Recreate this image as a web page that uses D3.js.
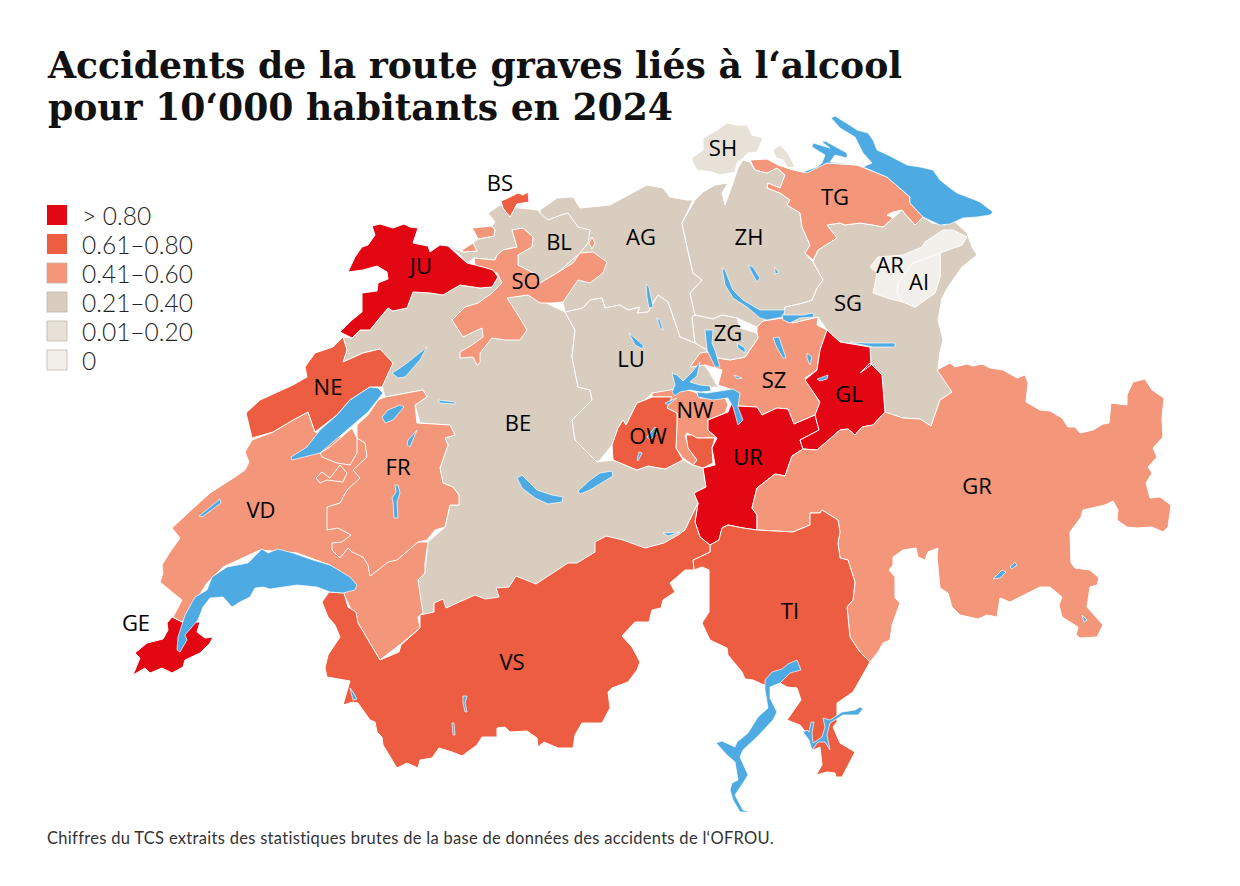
<!DOCTYPE html>
<html lang="fr">
<head>
<meta charset="UTF-8">
<title>Accidents de la route graves liés à l'alcool</title>
<script src="https://d3js.org/d3.v7.min.js"></script>
<style>
    html, body { margin: 0; padding: 0; background: #fff; }
    svg { display: block; }
    .title { font-family: "DejaVu Serif", serif; font-weight: 700; font-size: 37px; fill: #111; }
    .code { font-family: "Open Sans", sans-serif; font-size: 22px; fill: #000; text-anchor: middle; dominant-baseline: central; }
    .legend-text { font-family: Lato, sans-serif; font-size: 24.5px; font-weight: 300; fill: #222; dominant-baseline: central; }
    .source { font-family: Lato, sans-serif; font-size: 16.5px; letter-spacing: 0.3px; fill: #333; }
</style>
</head>
<body>
<svg id="map" width="1240" height="886"></svg>
<script>
const titleLines = ["Accidents de la route graves liés à l‘alcool", "pour 10‘000 habitants en 2024"];
const sourceText = "Chiffres du TCS extraits des statistiques brutes de la base de données des accidents de l‘OFROU.";

const classLabels = ["> 0.80", "0.61–0.80", "0.41–0.60", "0.21–0.40", "0.01–0.20", "0"];
const classColors = ["#e30613", "#ec5d41", "#f3967a", "#d9cdbf", "#e7e1d8", "#f3f0eb"];
const lakeColor = "#4eaae2";

// canton -> legend class index
const cantonCodes = ["BE","SG","AG","LU","ZH","BL","SO","VD","FR","NE","SZ","ZG","NW","OW","UR","GL","GR","TI","VS","JU","BS","GE","TG","SH","AR","AI"];
const cantonClass = [3,3,3,3,3,3,2,2,2,1,2,3,2,1,0,0,2,1,1,0,1,0,2,4,5,5];
const labelX = [518,848,641,631,749,559,526,261,398,328,774,728,695,648,748,849,977,790,512,421,500,136,835,723,890,919];
const labelY = [422,302,236,358,236,241,280,509,466,386,379,332,409,435,456,393,485,610,661,265,182,622,196,147,264,281];

// outlines, in map units
const shapes = {
  BE: [[[343,337],[352,338],[360,330],[370,330],[378,320],[388,308],[393,311],[407,308],[413,292],[430,293],[443,295],[460,285],[480,288],[492,287],[498,277],[507,285],[540,300],[565,312],[575,330],[572,357],[578,387],[590,390],[592,400],[572,420],[575,440],[597,462],[613,460],[637,470],[648,466],[665,469],[683,460],[693,465],[703,468],[706,487],[694,493],[698,503],[685,530],[690,550],[600,570],[440,625],[420,625],[418,580],[425,573],[428,542],[445,527],[450,505],[459,505],[459,495],[453,487],[443,483],[440,468],[448,445],[445,438],[455,435],[450,425],[420,423],[415,405],[427,397],[423,390],[385,397],[382,385],[393,363],[380,349],[363,353],[343,362],[347,350]]],
  SG: [[[813,262],[818,250],[837,238],[827,225],[840,223],[845,225],[860,223],[873,225],[883,227],[893,218],[902,210],[906,215],[915,225],[923,217],[932,223],[945,225],[953,220],[967,233],[972,247],[977,255],[962,267],[948,287],[942,298],[938,320],[943,340],[940,352],[938,368],[952,392],[940,400],[931,426],[920,419],[903,418],[885,413],[882,375],[860,373],[871,365],[870,347],[840,342],[827,330],[818,317],[793,323],[783,318],[785,307],[803,303],[812,300],[817,288],[823,280]]],
  AG: [[[540,213],[540,210],[557,198],[573,197],[580,208],[610,205],[623,198],[647,185],[663,188],[670,197],[687,200],[693,200],[682,223],[687,247],[693,273],[702,280],[690,293],[695,315],[692,317],[695,343],[680,337],[668,302],[658,295],[648,312],[637,313],[640,307],[628,310],[620,305],[605,308],[602,298],[590,300],[583,308],[565,312],[563,302],[540,300]]],
  LU: [[[565,312],[583,308],[590,300],[602,298],[605,308],[620,305],[628,310],[640,307],[637,313],[648,312],[658,295],[668,302],[680,337],[695,343],[707,350],[702,362],[710,373],[718,387],[690,388],[672,392],[652,393],[645,400],[637,403],[626,425],[623,420],[618,428],[612,445],[600,460],[597,462],[575,440],[572,420],[592,400],[590,390],[578,387],[572,357],[575,330]]],
  ZH: [[[695,200],[703,192],[715,185],[728,183],[722,193],[725,205],[733,183],[738,168],[743,160],[750,162],[755,170],[767,173],[777,168],[785,175],[780,188],[768,183],[767,188],[780,193],[790,200],[787,205],[800,213],[802,227],[810,245],[805,253],[813,262],[823,280],[817,288],[812,300],[803,303],[785,307],[783,318],[763,321],[757,327],[737,318],[722,315],[713,319],[695,315],[690,293],[702,280],[693,273],[687,247],[682,223]]],
  BL: [[[488,213],[500,205],[510,207],[538,210],[540,213],[548,220],[561,215],[568,213],[578,227],[590,230],[588,243],[580,253],[557,273],[540,283],[537,275],[518,265],[518,255],[532,247],[533,237],[523,228],[512,230],[517,247],[503,250],[497,255],[495,260],[474,258],[467,263],[458,253],[448,246],[463,252],[477,251],[473,243],[478,239],[494,236],[495,230],[492,226],[495,222]]],
  SO: [[[474,258],[495,260],[497,255],[503,250],[517,247],[512,230],[523,228],[533,237],[532,247],[518,255],[518,265],[537,275],[540,283],[557,273],[573,263],[580,253],[593,252],[607,262],[603,273],[590,283],[578,280],[563,302],[553,303],[542,303],[540,303],[528,295],[507,298],[518,315],[527,330],[520,340],[505,340],[492,338],[480,353],[480,363],[477,365],[473,357],[460,358],[460,352],[472,345],[483,337],[482,328],[463,337],[452,320],[465,307],[478,303],[492,293],[502,283],[497,273],[475,265]],
       [[472,228],[492,226],[495,230],[494,236],[478,239],[475,233]],
       [[462,250],[473,243],[477,251],[463,252]],
       [[592,237],[595,243],[592,249],[589,243]]],
  VD: [[[252,440],[273,432],[293,420],[308,412],[315,432],[340,437],[370,440],[400,500],[418,542],[428,542],[425,563],[425,573],[418,580],[423,613],[418,617],[420,628],[402,643],[380,660],[358,623],[343,593],[357,585],[330,565],[297,553],[260,550],[223,567],[207,583],[190,610],[182,622],[173,617],[182,600],[172,592],[160,582],[163,573],[162,565],[170,552],[180,538],[172,528],[188,513],[210,493],[235,477],[245,470],[249,462],[245,452]]],
  FR: [[[385,397],[423,390],[427,397],[415,405],[417,423],[450,425],[455,435],[445,438],[448,445],[440,468],[443,483],[453,487],[459,495],[459,505],[450,505],[445,527],[435,530],[427,540],[418,542],[397,560],[388,562],[378,570],[370,576],[368,565],[363,557],[352,552],[348,548],[340,558],[332,550],[332,543],[342,542],[351,535],[338,528],[327,530],[327,507],[340,503],[347,490],[360,478],[353,470],[367,457],[365,443],[357,438],[357,425],[368,415],[378,400]]],
  VDb: [[[322,457],[337,463],[350,465],[357,453],[357,438],[352,428],[330,447],[320,453]],
        [[340,465],[347,473],[343,482],[327,480],[320,483],[316,478],[322,472],[330,478]]],
  NE: [[[343,337],[347,350],[343,362],[363,353],[380,349],[393,363],[382,387],[370,387],[350,400],[337,415],[315,432],[308,412],[293,420],[273,432],[252,438],[246,413],[260,400],[293,385],[307,377],[305,367],[315,353],[333,347]]],
  SZ: [[[757,327],[763,321],[783,318],[793,323],[818,317],[817,325],[827,330],[820,350],[817,370],[805,378],[820,403],[815,415],[794,424],[788,409],[777,408],[762,415],[757,407],[738,406],[735,395],[733,390],[718,385],[722,370],[705,365],[690,367],[700,353],[707,352],[718,358],[730,360],[745,357],[758,338],[757,333]]],
  ZG: [[[695,315],[713,319],[722,315],[737,318],[740,328],[757,333],[758,338],[745,357],[730,360],[718,358],[707,350],[695,343],[692,317]]],
  NW: [[[652,393],[682,388],[697,393],[700,398],[725,398],[728,405],[725,413],[708,420],[708,430],[717,438],[697,438],[687,433],[685,436],[690,450],[697,460],[693,465],[683,458],[676,448],[677,423],[677,413],[667,408],[672,397],[652,397]]],
  OW: [[[613,460],[612,445],[618,428],[623,420],[626,425],[637,403],[645,400],[652,397],[672,397],[667,408],[677,413],[677,423],[676,448],[683,460],[665,469],[648,466],[637,470]],
       [[686,435],[692,435],[697,438],[715,438],[712,448],[713,463],[703,468],[693,465],[697,460],[688,448]]],
  UR: [[[708,420],[728,412],[735,395],[738,406],[757,407],[762,415],[777,408],[788,409],[794,424],[815,415],[819,430],[800,440],[803,449],[792,456],[785,476],[775,474],[757,488],[752,508],[757,515],[757,530],[743,528],[728,525],[722,528],[719,540],[710,545],[700,537],[695,522],[698,503],[694,493],[706,487],[703,468],[715,465],[712,448],[717,438],[708,430]]],
  GL: [[[827,330],[840,342],[870,347],[871,365],[860,373],[870,363],[882,375],[885,412],[873,425],[862,427],[855,435],[848,429],[840,430],[817,450],[803,449],[800,440],[819,430],[815,415],[820,402],[805,380],[817,370],[820,350]]],
  GR: [[[937,370],[950,363],[955,367],[967,364],[973,366],[982,364],[990,368],[1003,370],[1017,378],[1025,375],[1028,383],[1026,402],[1040,410],[1050,411],[1062,418],[1068,427],[1075,427],[1080,433],[1093,430],[1103,424],[1109,423],[1111,403],[1127,405],[1127,395],[1133,382],[1145,379],[1152,390],[1164,398],[1162,418],[1163,437],[1153,448],[1157,457],[1148,467],[1152,473],[1146,483],[1150,498],[1160,497],[1171,505],[1168,527],[1163,532],[1152,527],[1137,528],[1127,527],[1117,520],[1118,510],[1113,501],[1105,505],[1083,510],[1081,517],[1070,532],[1071,563],[1075,568],[1090,570],[1099,578],[1097,585],[1090,587],[1087,607],[1103,625],[1097,637],[1080,638],[1076,635],[1078,627],[1062,617],[1059,605],[1062,597],[1050,587],[1040,587],[1010,602],[1000,598],[997,617],[987,615],[978,619],[960,615],[952,607],[948,593],[940,588],[937,557],[938,548],[928,552],[925,560],[918,557],[916,548],[903,550],[893,557],[893,565],[889,570],[895,577],[895,598],[900,603],[892,625],[890,640],[883,643],[878,652],[870,662],[860,652],[850,637],[847,607],[853,600],[855,582],[848,560],[840,558],[838,543],[840,532],[838,520],[822,510],[820,513],[810,513],[810,525],[793,532],[757,530],[757,515],[752,508],[757,488],[775,474],[785,476],[792,456],[803,449],[817,450],[840,430],[848,429],[855,435],[862,427],[873,425],[885,412],[903,418],[920,419],[931,426],[940,400],[952,392]]],
  TI: [[[694,570],[693,560],[710,552],[710,545],[719,540],[722,528],[728,525],[743,528],[757,530],[793,532],[810,525],[810,513],[820,513],[822,510],[838,520],[840,532],[838,543],[840,558],[848,560],[855,582],[853,600],[847,607],[850,637],[860,652],[870,662],[853,692],[837,703],[837,722],[833,727],[840,743],[855,752],[842,777],[836,777],[835,773],[827,772],[816,775],[822,765],[820,747],[813,750],[812,740],[800,725],[787,720],[801,700],[797,688],[787,687],[780,683],[764,685],[753,680],[745,679],[742,672],[728,655],[727,648],[710,640],[702,623],[709,612],[709,570],[702,567]]],
  VS: [[[322,602],[329,592],[344,593],[348,607],[356,612],[358,623],[380,660],[399,652],[401,645],[420,628],[420,615],[434,612],[434,603],[443,599],[446,608],[475,595],[485,599],[499,597],[496,588],[509,587],[516,576],[536,584],[568,563],[577,563],[595,552],[595,542],[606,536],[623,540],[645,548],[664,543],[678,535],[685,530],[698,503],[695,522],[700,537],[710,545],[710,552],[693,560],[694,570],[685,570],[670,583],[675,592],[663,600],[661,608],[652,610],[649,622],[635,622],[622,636],[632,647],[640,662],[637,670],[628,682],[612,688],[608,692],[610,708],[602,723],[582,723],[575,735],[573,748],[558,748],[544,742],[538,747],[537,738],[527,731],[510,732],[505,727],[497,728],[497,737],[482,737],[477,745],[462,756],[452,752],[439,748],[432,758],[420,760],[418,768],[407,763],[397,768],[383,745],[382,737],[377,732],[375,722],[370,720],[358,703],[353,702],[343,705],[350,681],[327,677],[325,668],[328,655],[340,637],[335,625],[328,617]]],
  JU: [[[372,226],[380,224],[393,228],[404,224],[410,227],[418,228],[413,243],[428,246],[430,252],[440,245],[448,246],[467,263],[483,267],[493,270],[498,277],[492,287],[480,288],[460,285],[443,295],[430,293],[413,292],[407,308],[393,311],[388,308],[378,320],[370,330],[360,330],[352,338],[340,332],[352,320],[362,312],[362,293],[377,291],[378,283],[388,279],[387,272],[377,266],[363,270],[348,272],[355,257],[362,247],[368,245],[375,235]]],
  BS: [[[501,201],[508,198],[518,193],[523,195],[528,192],[529,202],[517,204],[510,217],[503,208]]],
  GE: [[[172,617],[182,622],[200,622],[197,632],[205,638],[213,637],[210,643],[200,653],[185,660],[183,667],[172,673],[162,668],[150,673],[145,668],[133,675],[140,658],[135,653],[147,643],[163,639],[168,630],[167,623]]],
  TG: [[[750,160],[767,159],[778,165],[793,170],[803,172],[827,163],[857,165],[887,177],[910,197],[910,203],[923,217],[915,225],[906,215],[902,210],[893,212],[887,215],[893,218],[883,227],[873,225],[860,223],[845,225],[840,223],[827,225],[837,238],[818,250],[813,260],[805,253],[810,245],[802,227],[800,213],[787,205],[790,200],[780,193],[767,188],[768,183],[780,188],[785,175],[777,168],[767,173],[755,170]]],
  SH: [[[692,158],[703,150],[703,138],[717,130],[727,123],[737,125],[747,125],[752,135],[763,138],[757,152],[748,153],[743,158],[737,163],[735,172],[720,175],[712,172],[697,170],[693,163]],
       [[773,150],[780,145],[787,152],[790,157],[795,167],[788,168],[783,160],[776,158]]],
  AR: [[[870,267],[878,257],[903,255],[922,247],[925,242],[943,230],[953,230],[967,237],[962,245],[940,253],[940,277],[935,293],[915,307],[903,302],[887,298],[873,293],[877,273]]],
  AI: [[[898,283],[913,263],[930,257],[940,253],[940,277],[935,293],[915,307],[903,302],[897,293]]]
};

const lakes = [
  [[831,118],[835,116],[848,124],[857,130],[868,133],[873,140],[877,150],[890,156],[907,165],[920,167],[933,170],[940,180],[950,188],[957,193],[970,198],[980,202],[993,212],[990,215],[977,217],[963,218],[950,224],[940,225],[923,217],[910,203],[910,197],[887,177],[863,167],[872,163],[863,153],[855,137],[840,128]],
  [[795,170],[803,172],[817,167],[822,163],[825,155],[812,147],[813,143],[830,148],[822,142],[825,141],[847,153],[847,158],[835,155],[830,162],[857,165],[827,163],[807,173]],
  [[722,268],[725,270],[733,290],[743,300],[760,310],[785,310],[783,317],[767,320],[760,318],[747,307],[733,298],[725,285]],
  [[782,315],[803,315],[813,313],[814,317],[800,318],[790,323],[783,320]],
  [[748,265],[753,267],[760,278],[757,282],[752,273]],
  [[775,267],[779,273],[775,274]],
  [[646,284],[649,287],[653,307],[649,308],[647,297]],
  [[657,318],[660,320],[663,330],[660,328]],
  [[629,333],[643,345],[643,349],[635,345]],
  [[705,330],[713,330],[712,343],[715,350],[720,367],[715,367],[707,350]],
  [[737,343],[745,348],[745,353],[738,348]],
  [[773,338],[779,337],[786,358],[783,358],[777,348]],
  [[807,353],[812,357],[810,365],[807,358]],
  [[850,342],[867,343],[895,343],[895,347],[873,347],[853,343]],
  [[817,379],[828,375],[827,379],[820,381]],
  [[734,375],[742,378],[737,379]],
  [[672,373],[677,375],[683,381],[692,372],[700,362],[697,376],[690,382],[700,385],[710,386],[711,391],[700,392],[690,390],[680,392],[675,396],[672,392],[675,385]],
  [[697,392],[707,393],[733,389],[740,393],[738,407],[743,420],[738,425],[733,407],[728,398],[713,400],[698,397]],
  [[665,403],[677,398],[668,405]],
  [[647,437],[655,427],[657,433],[650,440]],
  [[637,460],[639,452],[642,453],[638,461]],
  [[517,478],[522,475],[537,490],[552,495],[563,497],[562,502],[548,504],[535,498],[522,488]],
  [[578,491],[590,480],[600,473],[612,471],[613,476],[603,482],[590,490],[580,494]],
  [[427,347],[420,360],[405,377],[398,378],[392,373],[400,368],[407,363]],
  [[400,405],[404,407],[393,420],[385,423],[382,417],[388,410]],
  [[438,400],[455,402],[455,404],[440,403]],
  [[395,485],[398,485],[400,493],[397,502],[398,518],[394,518],[393,502],[392,498],[396,492]],
  [[417,430],[410,447],[407,445],[408,440]],
  [[220,499],[221,503],[202,517],[199,516]],
  [[663,533],[680,532],[668,536]],
  [[383,393],[378,388],[370,387],[350,400],[337,415],[320,430],[307,447],[291,457],[292,460],[320,453],[347,430],[368,412]],
  [[177,650],[180,652],[187,640],[185,635],[198,620],[203,607],[210,598],[223,597],[232,607],[240,602],[250,597],[255,588],[263,587],[270,589],[297,585],[317,587],[330,592],[343,593],[355,590],[357,585],[350,577],[330,565],[313,560],[293,553],[278,549],[268,553],[262,549],[248,563],[227,567],[212,577],[207,590],[195,597],[185,615],[178,637]],
  [[350,688],[353,692],[357,699],[353,700]],
  [[463,696],[467,696],[465,703],[467,712],[465,712],[463,703]],
  [[452,723],[454,723],[455,735],[453,735]],
  [[993,579],[1002,570],[1006,572],[1000,578]],
  [[1010,567],[1015,562],[1017,565],[1012,569]],
  [[1082,615],[1087,620],[1084,622]],
  [[788,664],[797,660],[801,670],[790,673],[780,683],[770,687],[770,698],[777,712],[773,720],[757,737],[743,750],[740,757],[748,775],[743,783],[735,795],[743,810],[750,812],[740,812],[733,800],[730,790],[732,783],[738,780],[735,762],[727,755],[716,743],[722,741],[735,747],[737,742],[748,733],[758,717],[768,708],[765,690],[765,680],[772,672],[782,669]],
  [[860,707],[863,709],[858,715],[843,715],[830,723],[827,735],[830,750],[825,742],[818,742],[812,750],[809,740],[803,732],[807,730],[809,732],[811,722],[814,722],[812,733],[813,743],[822,737],[825,727],[823,718],[830,720],[842,712],[855,710]]
];

const svg = d3.select("#map");
const path = d3.geoPath(d3.geoIdentity());
const color = d3.scaleOrdinal().domain(d3.range(classLabels.length)).range(classColors);

function toPolygons(rings) {
  return { type: "MultiPolygon", coordinates: rings.map(r => [r.concat([r[0]])]) };
}

const cantons = cantonCodes.map((code, i) => ({
  code, cls: cantonClass[i], x: labelX[i], y: labelY[i], geometry: toPolygons(shapes[code])
}));

// Vaud exclaves go on top of Fribourg, so split the draw order here
const vdIndex = cantons.findIndex(d => d.code === "FR") + 1;
cantons.splice(vdIndex, 0, { code: "VDb", cls: 2, geometry: toPolygons(shapes.VDb) });

svg.append("g").selectAll("path")
  .data(cantons)
  .join("path")
  .attr("d", d => path(d.geometry))
  .attr("fill", d => color(d.cls))
  .attr("stroke", "#fff")
  .attr("stroke-width", 1)
  .attr("stroke-linejoin", "round");

svg.append("g").selectAll("path")
  .data(lakes)
  .join("path")
  .attr("d", d => path(toPolygons([d])))
  .attr("fill", lakeColor)
  .attr("stroke", "#fff")
  .attr("stroke-width", 0.7)
  .attr("stroke-linejoin", "round");

svg.append("g").selectAll("text")
  .data(cantons.filter(d => d.x))
  .join("text")
  .attr("class", "code")
  .attr("x", d => d.x)
  .attr("y", d => d.y)
  .text(d => d.code);

// title
svg.selectAll("text.title")
  .data(titleLines)
  .join("text")
  .attr("class", "title")
  .attr("x", 48)
  .attr("y", (d, i) => 78 + i * 42)
  .attr("textLength", (d, i) => [854, 625][i])
  .attr("lengthAdjust", "spacingAndGlyphs")
  .text(d => d);

// legend
const legendY = d3.scalePoint().domain(classLabels).range([215, 360]);
const legend = svg.append("g").selectAll("g")
  .data(classLabels)
  .join("g")
  .attr("transform", d => `translate(47, ${legendY(d)})`);
legend.append("rect")
  .attr("y", -10)
  .attr("width", 20)
  .attr("height", 20)
  .attr("fill", (d, i) => color(i))
  .attr("stroke", (d, i) => i < 2 ? "none" : "#b9b0a4")
  .attr("stroke-width", 0.7);
legend.append("text")
  .attr("class", "legend-text")
  .attr("x", 35)
  .text(d => d);

svg.append("text")
  .attr("class", "source")
  .attr("x", 47)
  .attr("y", 844)
  .text(sourceText);
</script>
</body>
</html>
